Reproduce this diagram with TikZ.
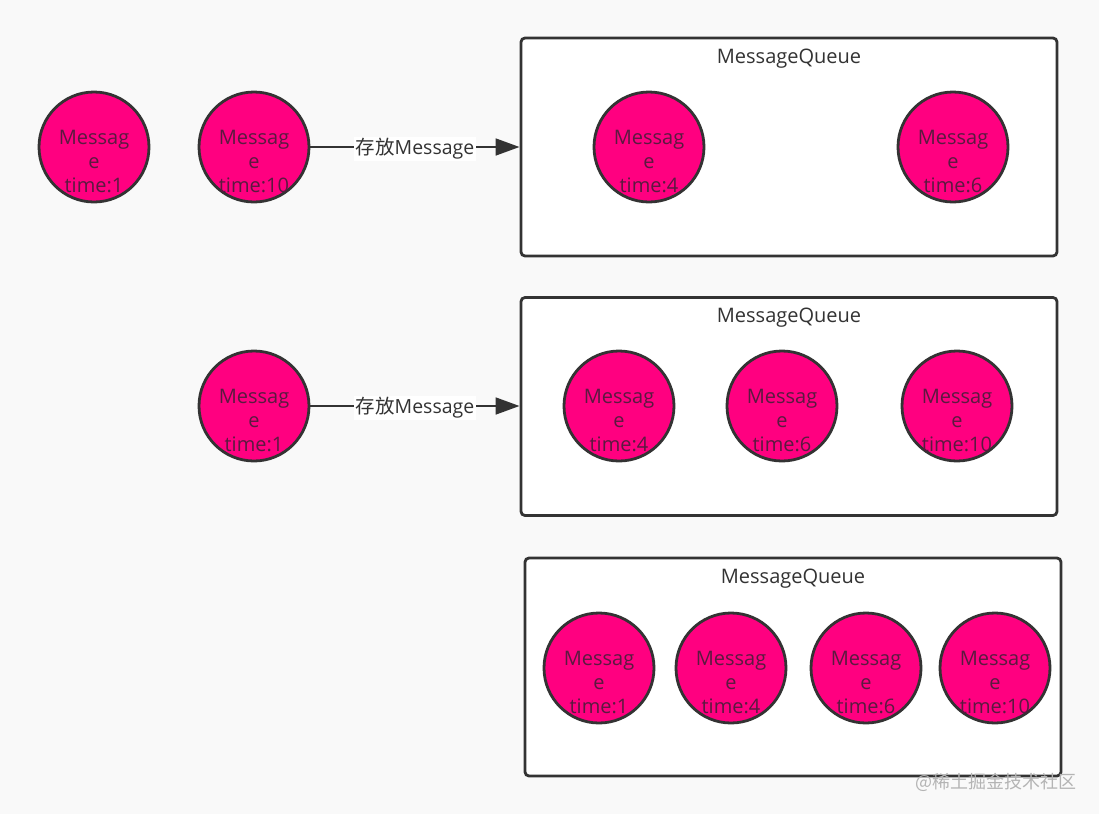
\documentclass[tikz,border=0pt]{standalone}
\usepackage{fontspec}
\setmainfont{Open Sans}
\newfontfamily\cjk{Noto Sans CJK SC}
\usetikzlibrary{arrows.meta}
\definecolor{bg}{HTML}{F9F9F9}
\definecolor{pinkfill}{HTML}{FF0080}
\definecolor{edge}{HTML}{333333}
\definecolor{msgink}{HTML}{5A1A40}
\definecolor{wm}{HTML}{B4B4B4}
\tikzset{
  msgcirc/.style={circle,draw=edge,fill=pinkfill,line width=2.1pt,minimum size=82.5pt,inner sep=0pt},
  msgtxt/.style={align=center,text=msgink,font=\fontsize{15pt}{18pt}\selectfont,inner sep=0pt},
  qbox/.style={draw=edge,fill=white,line width=2.1pt,rounded corners=3pt,minimum width=402pt,minimum height=163.5pt,inner sep=0pt},
  qtitle/.style={text=edge,font=\fontsize{15pt}{18pt}\selectfont,inner sep=0pt},
  conn/.style={draw=edge,line width=2.1pt,-{Triangle[length=18pt,width=12.5pt]}},
  connlbl/.style={fill=white,text=edge,font=\fontsize{14.6pt}{17pt}\selectfont,inner sep=1pt,yshift=-1.5pt},
}
\newcommand\msgnode[4]{%
  \node[msgcirc] (#1) at (#2,#3) {};
  \node[msgtxt,yshift=-10.5pt] (#1t) at (#1) {Messag\\e\\time:#4};
}
\begin{document}
\begin{tikzpicture}[x=0.75pt,y=-0.75pt]
\fill[bg] (0,0) rectangle (1099,814);
\useasboundingbox (0,0) rectangle (1099,814);
% boxes
\node[qbox] (q1) at (789,147) {};
\node[qbox] (q2) at (789,406.5) {};
\node[qbox] (q3) at (793,667) {};
\node[qtitle] (q1t) at (789,59) {MessageQueue};
\node[qtitle] (q2t) at (789,318) {MessageQueue};
\node[qtitle] (q3t) at (793,579) {MessageQueue};
% row 1
\msgnode{a1}{94}{147}{1}
\msgnode{a2}{254}{147}{10}
\msgnode{a3}{649}{147}{4}
\msgnode{a4}{953}{147}{6}
\draw[conn] (a2) -- (a2 -| q1.west) node[connlbl,midway] (l1) {{\cjk 存放}Message};
% row 2
\msgnode{b1}{254}{406}{1}
\msgnode{b2}{619}{406}{4}
\msgnode{b3}{782}{406}{6}
\msgnode{b4}{957}{406}{10}
\draw[conn] (b1) -- (b1 -| q2.west) node[connlbl,midway] (l2) {{\cjk 存放}Message};
% row 3
\msgnode{c1}{599}{668}{1}
\msgnode{c2}{731}{668}{4}
\msgnode{c3}{866}{668}{6}
\msgnode{c4}{995}{668}{10}
% watermark
\node[text=wm,font=\cjk\fontsize{13.5pt}{16pt}\selectfont,inner sep=0pt] (wmk) at (996,782) {@稀土掘金技术社区};
\end{tikzpicture}
\end{document}
